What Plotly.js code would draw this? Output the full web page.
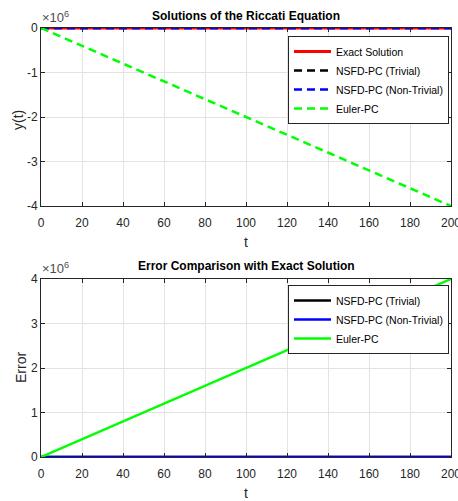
<!DOCTYPE html>
<html><head><meta charset="utf-8">
<script src="https://cdn.plot.ly/plotly-3.0.1.min.js"></script>
<style>html,body{margin:0;padding:0;background:#fff;}</style>
</head><body><div id="chart" style="width:458px;height:501px;"></div>
<script>
var t = [0, 20, 40, 60, 80, 100, 120, 140, 160, 180, 200];
var exactSol = [0, 1, 1, 1, 1, 1, 1, 1, 1, 1, 1];
var nsfdTrivial = [0, 1, 1, 1, 1, 1, 1, 1, 1, 1, 1];
var nsfdNonTrivial = [0, 1, 1, 1, 1, 1, 1, 1, 1, 1, 1];
var eulerPC = [0, -400000, -800000, -1200000, -1600000, -2000000, -2400000, -2800000, -3200000, -3600000, -4000000];
var errTrivial = [0, 0, 0, 0, 0, 0, 0, 0, 0, 0, 0];
var errNonTrivial = [0, 0, 0, 0, 0, 0, 0, 0, 0, 0, 0];
var errEuler = [0, 400000, 800000, 1200000, 1600000, 2000000, 2400000, 2800000, 3200000, 3600000, 4000000];
var xTicks = [0, 20, 40, 60, 80, 100, 120, 140, 160, 180, 200];
var yTopTicks = [-4000000, -3000000, -2000000, -1000000, 0];
var yTopLabels = ['-4', '-3', '-2', '-1', '0'];
var yBotTicks = [0, 1000000, 2000000, 3000000, 4000000];
var yBotLabels = ['0', '1', '2', '3', '4'];

var FONT = '"Liberation Sans", Arial, Helvetica, sans-serif';

var traces = [
  {x: t, y: exactSol, name: 'Exact Solution', mode: 'lines', line: {color: '#ff0000', width: 3}, xaxis: 'x', yaxis: 'y', legend: 'legend'},
  {x: t, y: nsfdTrivial, name: 'NSFD-PC (Trivial)', mode: 'lines', line: {color: '#000000', width: 2.5, dash: '8px,5px'}, xaxis: 'x', yaxis: 'y', legend: 'legend'},
  {x: t, y: nsfdNonTrivial, name: 'NSFD-PC (Non-Trivial)', mode: 'lines', line: {color: '#0000ff', width: 2.5, dash: '8px,5px'}, xaxis: 'x', yaxis: 'y', legend: 'legend'},
  {x: t, y: eulerPC, name: 'Euler-PC', mode: 'lines', line: {color: '#00ff00', width: 2.5, dash: '8px,5px'}, xaxis: 'x', yaxis: 'y', legend: 'legend'},
  {x: t, y: errTrivial, name: 'NSFD-PC (Trivial)', mode: 'lines', line: {color: '#000000', width: 2.5}, xaxis: 'x2', yaxis: 'y2', legend: 'legend2'},
  {x: t, y: errNonTrivial, name: 'NSFD-PC (Non-Trivial)', mode: 'lines', line: {color: '#0000ff', width: 2.5}, xaxis: 'x2', yaxis: 'y2', legend: 'legend2'},
  {x: t, y: errEuler, name: 'Euler-PC', mode: 'lines', line: {color: '#00ff00', width: 2.5}, xaxis: 'x2', yaxis: 'y2', legend: 'legend2'}
];

function xax(anchor) {
  return {
    domain: [41/458, 451/458], anchor: anchor, range: [0, 200],
    tickvals: xTicks, ticks: 'inside', ticklen: 4, tickcolor: '#262626',
    showline: true, linecolor: '#262626', linewidth: 1, mirror: 'ticks',
    showgrid: true, gridcolor: '#e3e3e3', gridwidth: 1, zeroline: false,
    tickfont: {family: FONT, size: 12, color: '#262626'}, ticklabelstandoff: 6,
    ticklabeloverflow: 'allow',
    title: {text: 't', font: {family: FONT, size: 14, color: '#262626'}, standoff: 7}
  };
}
function yax(anchor, dom, rng, tv, tt) {
  return {
    domain: dom, anchor: anchor, range: rng,
    tickvals: tv, ticktext: tt, ticks: 'inside', ticklen: 4, tickcolor: '#262626',
    showline: true, linecolor: '#262626', linewidth: 1, mirror: 'ticks',
    showgrid: true, gridcolor: '#e3e3e3', gridwidth: 1, zeroline: false,
    tickfont: {family: FONT, size: 12, color: '#262626'}, ticklabeloverflow: 'allow'
  };
}

var layout = {
  width: 458, height: 501,
  margin: {l: 0, r: 0, t: 0, b: 0, autoexpand: false},
  paper_bgcolor: '#ffffff', plot_bgcolor: '#ffffff',
  showlegend: true,
  xaxis: xax('y'),
  yaxis: yax('x', [1 - 206/501, 1 - 28/501], [-4000000, 0], yTopTicks, yTopLabels),
  xaxis2: xax('y2'),
  yaxis2: yax('x2', [1 - 457/501, 1 - 279/501], [0, 4000000], yBotTicks, yBotLabels),
  legend: {x: 288/458, y: 1 - 36/501, xanchor: 'left', yanchor: 'top', bgcolor: '#ffffff', bordercolor: '#262626', borderwidth: 1,
    font: {family: FONT, size: 10.5, color: '#000000'}, itemwidth: 37, tracegroupgap: 0},
  legend2: {x: 288/458, y: 1 - 285/501, xanchor: 'left', yanchor: 'top', bgcolor: '#ffffff', bordercolor: '#262626', borderwidth: 1,
    font: {family: FONT, size: 10.5, color: '#000000'}, itemwidth: 37, tracegroupgap: 0},
  annotations: [
    {text: '<b>Solutions of the Riccati Equation</b>', xref: 'paper', yref: 'paper', x: 246/458, y: 1 - 16/501, xanchor: 'center', yanchor: 'middle', showarrow: false, font: {family: FONT, size: 12, color: '#000000'}},
    {text: '<b>Error Comparison with Exact Solution</b>', xref: 'paper', yref: 'paper', x: 246/458, y: 1 - 266/501, xanchor: 'center', yanchor: 'middle', showarrow: false, font: {family: FONT, size: 12, color: '#000000'}},
    {text: '×10<sup>6</sup>', xref: 'paper', yref: 'paper', x: 40/458, y: 1 - 27/501, xanchor: 'left', yanchor: 'bottom', showarrow: false, font: {family: FONT, size: 13, color: '#4d4d4d'}},
    {text: '×10<sup>6</sup>', xref: 'paper', yref: 'paper', x: 40/458, y: 1 - 278/501, xanchor: 'left', yanchor: 'bottom', showarrow: false, font: {family: FONT, size: 13, color: '#4d4d4d'}},
    {text: 'y(t)', xref: 'paper', yref: 'paper', x: 18/458, y: 1 - 120/501, xanchor: 'center', yanchor: 'middle', textangle: -90, showarrow: false, font: {family: FONT, size: 14, color: '#262626'}},
    {text: 'Error', xref: 'paper', yref: 'paper', x: 21/458, y: 1 - 368/501, xanchor: 'center', yanchor: 'middle', textangle: -90, showarrow: false, font: {family: FONT, size: 14, color: '#262626'}}
  ]
};

Plotly.newPlot('chart', traces, layout, {displayModeBar: false, staticPlot: true});
</script>
</body></html>
